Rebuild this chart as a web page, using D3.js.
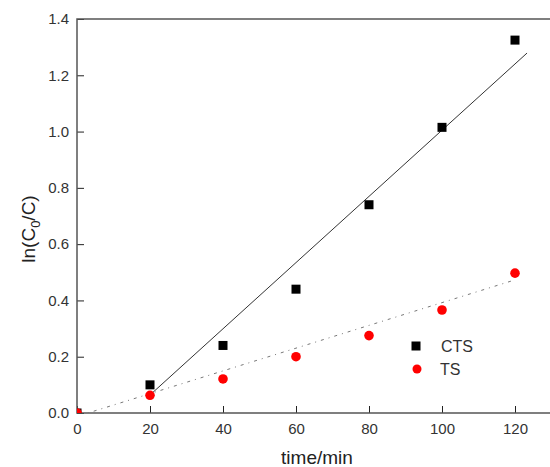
<!DOCTYPE html>
<html>
<head>
<meta charset="utf-8">
<script src="https://cdn.jsdelivr.net/npm/d3@7"></script>
<style>
  body { margin: 0; background: #fff; }
  text { font-family: "Liberation Sans", Arial, sans-serif; }
</style>
</head>
<body>
<div id="chart"></div>
<script>
// Data
const times = [0, 20, 40, 60, 80, 100, 120];
const ctsValues = [0, 0.10, 0.24, 0.44, 0.74, 1.015, 1.325];
const tsValues = [0, 0.063, 0.121, 0.20, 0.275, 0.366, 0.497];
// fitted lines (end points as drawn)
const ctsFitX = [20, 123.3];
const ctsFitY = [0.064, 1.279];
const tsFitX = [3, 120];
const tsFitY = [0, 0.473];
const xTicks = [0, 20, 40, 60, 80, 100, 120];
const yTicks = [0, 0.2, 0.4, 0.6, 0.8, 1.0, 1.2, 1.4];

const W = 550, H = 467;
const margin = { top: 19, left: 77, bottom: 54 };
const plotW = 474.5;
const plotH = H - margin.top - margin.bottom;

const svg = d3.select("#chart").append("svg")
  .attr("width", W).attr("height", H);

const x = d3.scaleLinear().domain([0, 130]).range([margin.left, margin.left + plotW]);
const y = d3.scaleLinear().domain([0, 1.4]).range([H - margin.bottom, margin.top]);

svg.append("defs").append("clipPath").attr("id", "clip")
  .append("rect")
  .attr("x", margin.left).attr("y", margin.top)
  .attr("width", plotW).attr("height", plotH);

// Axes (ticks point inward)
const axisColor = "#555";
const xAxis = svg.append("g")
  .attr("transform", `translate(0,${H - margin.bottom})`)
  .call(d3.axisBottom(x).tickValues(xTicks).tickSize(-7).tickPadding(10).tickFormat(d3.format("d")));
const yAxis = svg.append("g")
  .attr("transform", `translate(${margin.left},0)`)
  .call(d3.axisLeft(y).tickValues(yTicks).tickSize(-7).tickPadding(8).tickFormat(d3.format(".1f")));

[xAxis, yAxis].forEach(g => {
  g.select(".domain").remove();
  g.selectAll(".tick line").attr("stroke", "#222").attr("stroke-width", 1);
  g.selectAll(".tick text").attr("fill", "#333").style("font-size", "15px");
});

// frame
svg.append("rect")
  .attr("x", margin.left).attr("y", margin.top)
  .attr("width", plotW).attr("height", plotH)
  .attr("fill", "none").attr("stroke", axisColor).attr("stroke-width", 1.5);

const plot = svg.append("g").attr("clip-path", "url(#clip)");

const line = d3.line().x(d => x(d[0])).y(d => y(d[1]));

// CTS fit line
plot.append("path")
  .datum(d3.zip(ctsFitX, ctsFitY))
  .attr("d", line)
  .attr("fill", "none").attr("stroke", "#333").attr("stroke-width", 1);

// TS fit line (dotted)
plot.append("path")
  .datum(d3.zip(tsFitX, tsFitY))
  .attr("d", line)
  .attr("fill", "none").attr("stroke", "#777").attr("stroke-width", 1)
  .attr("stroke-dasharray", "1,5,3,5");

const sq = 9;
plot.selectAll(".cts")
  .data(d3.zip(times, ctsValues))
  .join("rect")
  .attr("class", "cts")
  .attr("x", d => x(d[0]) - sq / 2)
  .attr("y", d => y(d[1]) - sq / 2)
  .attr("width", sq).attr("height", sq)
  .attr("fill", "#000");

plot.selectAll(".ts")
  .data(d3.zip(times, tsValues))
  .join("circle")
  .attr("class", "ts")
  .attr("cx", d => x(d[0]))
  .attr("cy", d => y(d[1]))
  .attr("r", 4.8)
  .attr("fill", "#f00");

// Legend
const legend = svg.append("g").attr("transform", "translate(416,346)");
legend.append("rect").attr("x", -4.5).attr("y", -4.5).attr("width", sq).attr("height", sq).attr("fill", "#000");
legend.append("text").attr("x", 25).attr("y", 6).text("CTS")
  .attr("fill", "#333").style("font-size", "16px");
legend.append("circle").attr("cx", 1).attr("cy", 23).attr("r", 4.5).attr("fill", "#f00");
legend.append("text").attr("x", 24).attr("y", 29).text("TS")
  .attr("fill", "#333").style("font-size", "16px");

// Axis titles
svg.append("text")
  .attr("x", 317).attr("y", 464)
  .attr("text-anchor", "middle")
  .attr("fill", "#222").style("font-size", "19px")
  .text("time/min");

const yt = svg.append("text")
  .attr("transform", `translate(35,229) rotate(-90)`)
  .attr("text-anchor", "middle")
  .attr("fill", "#222").style("font-size", "19px");
yt.append("tspan").text("ln(C");
yt.append("tspan").attr("dy", 5).style("font-size", "13px").text("0");
yt.append("tspan").attr("dy", -5).text("/C)");
</script>
</body>
</html>
